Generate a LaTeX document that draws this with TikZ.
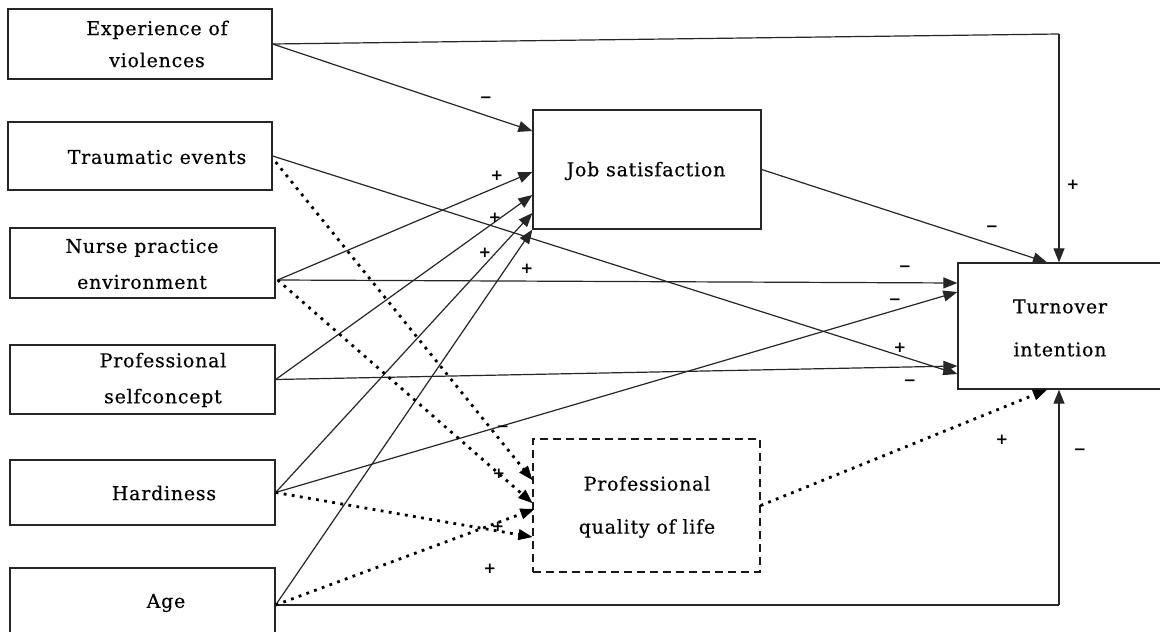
\documentclass[tikz,border=0pt]{standalone}
\usepackage{fontspec}
\setmainfont{DejaVu Serif}
\newfontfamily\lblfont[LetterSpace=4,FakeBold=0.4]{DejaVu Serif}
\newfontfamily\signfont{DejaVu Sans Bold}
\usetikzlibrary{calc,arrows.meta}
\begin{document}
\begin{tikzpicture}[x=1pt,y=-1pt,
  box/.style={draw=black!85,line width=1.3pt,inner sep=0pt},
  dbox/.style={draw=black!90,line width=1.3pt,inner sep=0pt,dash pattern=on 8pt off 5pt},
  lbl/.style={font={\lblfont\fontsize{19pt}{#1}\selectfont},align=center,inner sep=0pt},
  lbl/.default=32pt,
  ln/.style={draw=black!85,line width=1.2pt},
  arr/.style={ln,-{Triangle[length=14pt,width=11pt]}},
  dotl/.style={draw=black,line width=2.8pt,dash pattern=on 2.8pt off 5.4pt,
    -{Triangle[length=14pt,width=11pt,line width=0.6pt]}},
  sg/.style={font={\signfont\fontsize{15pt}{15pt}\selectfont},inner sep=0pt}]
\useasboundingbox (0,0) rectangle (1160,632);
\fill[white] (0,0) rectangle (1160,632);
% boxes
\node[box,minimum width=264pt,minimum height=70pt] (exp) at (140,44) {};
\node[box,minimum width=264pt,minimum height=68pt] (tra) at (140,156) {};
\node[box,minimum width=265pt,minimum height=70pt] (nur) at (142.5,263) {};
\node[box,minimum width=265pt,minimum height=69pt] (pro) at (142.5,379.5) {};
\node[box,minimum width=265pt,minimum height=65pt] (har) at (142.5,492.5) {};
\node[box,minimum width=265pt,minimum height=74pt] (age) at (142.5,605) {};
\node[box,minimum width=228pt,minimum height=119pt] (job) at (647,169.5) {};
\node[dbox,minimum width=227pt,minimum height=133pt] (pql) at (646.5,505.5) {};
\node[box,minimum width=204pt,minimum height=126pt] (tur) at (1060,326) {};
% texts
\node[lbl] (expT) at (157,44) {Experience of\\violences};
\node[lbl] (traT) at (157,157) {Traumatic events};
\node[lbl=36pt] (nurT) at (142,264) {Nurse practice\\environment};
\node[lbl=36pt] (proT) at (163,380) {Professional\\selfconcept};
\node[lbl] (harT) at (164,493) {Hardiness};
\node[lbl] (ageT) at (166,603) {Age};
\node[lbl] (jobT) at (646,171) {Job satisfaction};
\node[lbl=43pt] (pqlT) at (647,507) {Professional\\quality of life};
\node[lbl=43pt] (turT) at (1060,328) {Turnover\\intention};
% anchor points
\coordinate (nurO) at ($(nur.east)+(2,17)$);
\coordinate (traD) at ($(tra.east)+(3,6)$);
\coordinate (c1) at (1059,34);
\coordinate (c2) at (1059,605);
% to job satisfaction
\draw[arr] (exp.east) -- ($(job.west)+(0,-38.5)$);
\draw[arr] (nurO) -- ($(job.west)+(0,2.5)$);
\draw[arr] (pro.east) -- ($(job.west)+(0,25.5)$);
\draw[arr] (har.east) -- ($(job.west)+(0,43.5)$);
\draw[arr] (age.east) -- (job.south west);
% to turnover
\draw[ln] (exp.east) -- (c1);
\draw[arr] (c1) -- (c1 |- tur.north);
\draw[arr] (job.east) -- ($(tur.north)+(-13,0)$);
\draw[arr] (nurO) -- ($(tur.west)+(0,-43)$);
\draw[arr] (tra.east) -- ($(tur.west)+(0,48)$);
\draw[arr] (har.east) -- ($(tur.west)+(0,-34)$);
\draw[arr] (pro.east) -- ($(tur.west)+(0,40)$);
\draw[ln] (age.east) -- (c2);
\draw[arr] (c2) -- (c2 |- tur.south);
% dotted to professional quality of life
\draw[dotl] (traD) -- ($(pql.west)+(0,-25.5)$);
\draw[dotl] (nurO) -- ($(pql.west)+(0,-2.5)$);
\draw[dotl] (age.east) -- ($(pql.west)+(2,3.5)$);
\draw[dotl] (har.east) -- ($(pql.west)+(0,31.5)$);
\draw[dotl] (pql.east) -- ($(tur.south)+(-13,0)$);
% signs
\node[sg] (s1) at (486,100) {−};
\node[sg] (s2) at (497,176) {+};
\node[sg] (s3) at (495,218) {+};
\node[sg] (s4) at (485,253) {+};
\node[sg] (s5) at (527,269) {+};
\node[sg] (s6) at (503,429) {−};
\node[sg] (s7) at (499,474) {+};
\node[sg] (s8) at (498,527) {+};
\node[sg] (s9) at (490,569) {+};
\node[sg] (s10) at (1073,185) {+};
\node[sg] (s11) at (992,229) {−};
\node[sg] (s12) at (905,269) {−};
\node[sg] (s13) at (895,302) {−};
\node[sg] (s14) at (900,348) {+};
\node[sg] (s15) at (910,383) {−};
\node[sg] (s16) at (1002,440) {+};
\node[sg] (s17) at (1080,452) {−};
\end{tikzpicture}
\end{document}
